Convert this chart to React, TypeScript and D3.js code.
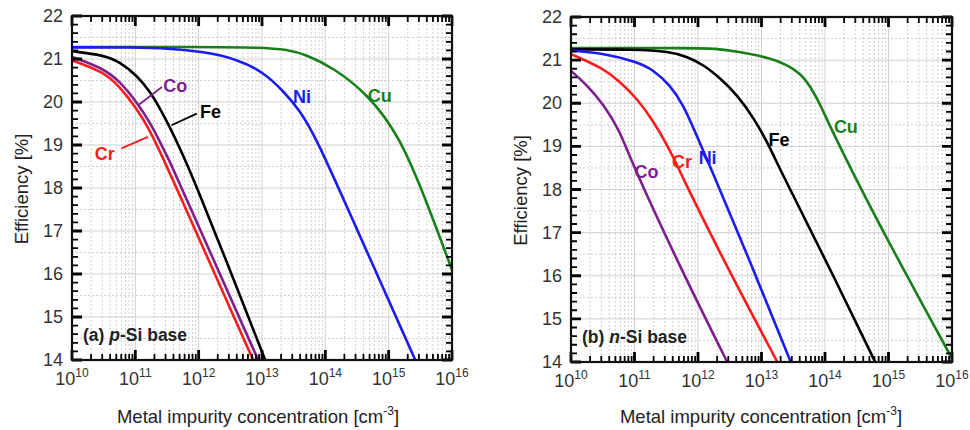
import React from 'react'
import * as d3 from 'd3'

// log10 of metal impurity concentration [cm-3] and efficiency [%]
// (a) p-Si base
const pCuX = [10, 12, 13.0, 13.4, 13.7, 14.12, 14.66, 15.18, 15.62, 16]
const pCuY = [21.28, 21.28, 21.27, 21.22, 21.1, 20.8, 20.2, 19.2, 17.6, 16.1]
const pNiX = [10, 11, 11.5, 12.08, 12.6, 13.02, 13.34, 13.6, 13.86, 14.39, 15.42]
const pNiY = [21.27, 21.27, 21.25, 21.17, 21.0, 20.7, 20.25, 19.8, 19.15, 17.4, 14]
const pFeX = [10, 10.5, 10.76, 11.02, 11.23, 11.39, 11.55, 11.71, 11.84, 11.95, 12.44, 13.05]
const pFeY = [21.18, 21.09, 20.93, 20.62, 20.25, 19.85, 19.4, 18.9, 18.47, 18.09, 16.3, 14]
const pCoX = [10, 10.5, 10.76, 11.02, 11.23, 11.39, 11.55, 11.7, 12.94]
const pCoY = [21.05, 20.78, 20.47, 20.0, 19.53, 19.07, 18.6, 18.1, 14]
const pCrX = [10, 10.5, 10.76, 11.02, 11.23, 11.39, 11.56, 12.86]
const pCrY = [20.97, 20.7, 20.35, 19.85, 19.34, 18.84, 18.3, 14]

// (b) n-Si base
const nCuX = [10, 12, 12.25, 12.62, 13.14, 13.4, 13.61, 13.77, 13.93, 14.09, 14.76, 16]
const nCuY = [21.28, 21.28, 21.27, 21.2, 21.05, 20.89, 20.7, 20.39, 19.96, 19.42, 17.43, 14.08]
const nFeX = [10, 11, 11.56, 11.83, 12.09, 12.35, 12.62, 12.88, 13.09, 13.25, 13.4, 14.1, 14.79]
const nFeY = [21.25, 21.25, 21.2, 21.08, 20.89, 20.58, 20.19, 19.65, 19.1, 18.6, 18.15, 16.1, 14]
const nNiX = [10, 10.51, 11.04, 11.3, 11.56, 11.77, 11.95, 12.15, 12.83, 13.46]
const nNiY = [21.22, 21.16, 20.96, 20.77, 20.42, 19.96, 19.35, 18.68, 16.3, 14]
const nCrX = [10, 10.51, 10.77, 11.04, 11.3, 11.51, 11.67, 11.8, 12.46, 13.25]
const nCrY = [21.14, 20.81, 20.5, 20.11, 19.58, 19.04, 18.57, 18.15, 16.19, 14]
const nCoX = [10, 10.24, 10.51, 10.77, 10.94, 11.72, 12.46]
const nCoY = [20.75, 20.44, 19.98, 19.36, 18.68, 16.19, 14]

const decades = [10, 11, 12, 13, 14, 15, 16]
const yTicks = [14, 15, 16, 17, 18, 19, 20, 21, 22]

const colors: Record<string, string> = {
  Cu: '#1a7f1a', Ni: '#1c1cf0', Fe: '#000000', Co: '#7d1f8e', Cr: '#f81e1e',
}

type Series = { name: string; xs: number[]; ys: number[] }
type Label = { name: string; x: number; y: number; lead?: [number, number, number, number] }

const pSeries: Series[] = [
  { name: 'Cu', xs: pCuX, ys: pCuY },
  { name: 'Ni', xs: pNiX, ys: pNiY },
  { name: 'Fe', xs: pFeX, ys: pFeY },
  { name: 'Co', xs: pCoX, ys: pCoY },
  { name: 'Cr', xs: pCrX, ys: pCrY },
]
const nSeries: Series[] = [
  { name: 'Cu', xs: nCuX, ys: nCuY },
  { name: 'Fe', xs: nFeX, ys: nFeY },
  { name: 'Ni', xs: nNiX, ys: nNiY },
  { name: 'Cr', xs: nCrX, ys: nCrY },
  { name: 'Co', xs: nCoX, ys: nCoY },
]

// label positions in data coordinates (log10 x, efficiency y)
const pLabels: Label[] = [
  { name: 'Co', x: 11.44, y: 20.23, lead: [11.04, 19.92, 11.42, 20.35] },
  { name: 'Fe', x: 12.02, y: 19.62, lead: [11.57, 19.46, 11.97, 19.73] },
  { name: 'Cr', x: 10.36, y: 18.64, lead: [10.78, 18.92, 11.2, 19.19] },
  { name: 'Ni', x: 13.49, y: 19.97 },
  { name: 'Cu', x: 14.67, y: 19.99 },
]
const nLabels: Label[] = [
  { name: 'Co', x: 11.0, y: 18.26 },
  { name: 'Cr', x: 11.59, y: 18.5 },
  { name: 'Ni', x: 12.01, y: 18.6 },
  { name: 'Fe', x: 13.11, y: 19.0 },
  { name: 'Cu', x: 14.14, y: 19.31 },
]

const font = 'Arial, "Liberation Sans", sans-serif'

const Panel = (props: {
  x0: number; x1: number; y0: number; y1: number
  series: Series[]; labels: Label[]; tag: string; base: string; titleX: number; yTitleX: number
}) => {
  const { x0, x1, y0, y1, series, labels, tag, base, titleX, yTitleX } = props
  const xScale = d3.scaleLog().domain([1e10, 1e16]).range([x0, x1])
  const yScale = d3.scaleLinear().domain([14, 22]).range([y1, y0])
  const lx = (e: number) => xScale(Math.pow(10, e))

  const minorX: number[] = []
  decades.slice(0, -1).forEach(d => { for (let k = 2; k <= 9; k++) minorX.push(k * Math.pow(10, d)) })
  const minorY = d3.range(14, 22.001, 0.2).filter(v => Math.abs(v - Math.round(v)) > 0.01)
  const gridY = d3.range(14.5, 22, 1)

  const lineGen = d3.line<[number, number]>()
    .x(d => lx(d[0])).y(d => yScale(d[1])).curve(d3.curveBasis)

  // tick marks as path strings (inward, all four sides)
  const minorTicks = minorX.map(v => {
    const x = xScale(v).toFixed(2)
    return `M${x},${y1}V${y1 - 6}M${x},${y0}V${y0 + 6}`
  }).join('') + minorY.map(v => {
    const y = yScale(v).toFixed(2)
    return `M${x0},${y}H${x0 + 6}M${x1},${y}H${x1 - 6}`
  }).join('')
  const majorTicks = decades.map(d => {
    const x = lx(d).toFixed(2)
    return `M${x},${y1}V${y1 - 10}M${x},${y0}V${y0 + 10}`
  }).join('') + yTicks.map(v => {
    const y = yScale(v).toFixed(2)
    return `M${x0},${y}H${x0 + 10}M${x1},${y}H${x1 - 10}`
  }).join('')

  return (
    <g fontFamily={font}>
      {/* grid */}
      {minorX.map((v, i) => (
        <line key={'gx' + i} x1={xScale(v)} x2={xScale(v)} y1={y0} y2={y1} stroke='#c4c4c4' strokeWidth={0.8} strokeDasharray='2,2' />
      ))}
      {gridY.map((v, i) => (
        <line key={'gy' + i} x1={x0} x2={x1} y1={yScale(v)} y2={yScale(v)} stroke='#c4c4c4' strokeWidth={0.8} strokeDasharray='2,2' />
      ))}
      {decades.map(d => (
        <line key={'GX' + d} x1={lx(d)} x2={lx(d)} y1={y0} y2={y1} stroke='#d0d0d0' strokeWidth={1} />
      ))}
      {yTicks.map(v => (
        <line key={'GY' + v} x1={x0} x2={x1} y1={yScale(v)} y2={yScale(v)} stroke='#d0d0d0' strokeWidth={1} />
      ))}

      {/* curves */}
      <defs>
        <clipPath id={'clip' + tag}>
          <rect x={x0} y={y0} width={x1 - x0} height={y1 - y0} />
        </clipPath>
      </defs>
      <g clipPath={`url(#clip${tag})`}>
        {series.map(s => (
          <path key={s.name} d={lineGen(s.xs.map((x, i) => [x, s.ys[i]] as [number, number])) || ''}
            fill='none' stroke={colors[s.name]} strokeWidth={2.6} />
        ))}
      </g>

      <path d={minorTicks} fill='none' stroke='#000' strokeWidth={1.8} />
      <path d={majorTicks} fill='none' stroke='#000' strokeWidth={2.8} />
      <rect x={x0} y={y0} width={x1 - x0} height={y1 - y0} fill='none' stroke='#111' strokeWidth={2.2} />

      {/* tick labels */}
      {yTicks.map(v => (
        <text key={'ly' + v} x={x0 - 9} y={yScale(v) + 6} textAnchor='end' fontSize={18} fill='#333'>{v}</text>
      ))}
      {decades.map(d => (
        <text key={'lx' + d} x={lx(d)} y={y1 + 25} textAnchor='middle' fontSize={18} fill='#333'>
          10<tspan fontSize={12} dy={-8}>{d}</tspan>
        </text>
      ))}

      {/* series labels */}
      {labels.map(l => (
        <g key={'sl' + l.name}>
          {l.lead && (
            <line x1={lx(l.lead[0])} y1={yScale(l.lead[1])} x2={lx(l.lead[2])} y2={yScale(l.lead[3])}
              stroke={colors[l.name]} strokeWidth={1.8} />
          )}
          <text x={lx(l.x)} y={yScale(l.y)} fontSize={18} fontWeight='bold' fill={colors[l.name]}>{l.name}</text>
        </g>
      ))}

      <text x={x0 + 11} y={y1 - 19} fontSize={17.5} fontWeight='bold' fill='#222'>
        ({tag}) <tspan fontStyle='italic'>{base}</tspan>-Si base
      </text>

      {/* axis titles */}
      <text x={titleX} y={423} textAnchor='middle' fontSize={18.5} fill='#222'>
        Metal impurity concentration [cm<tspan fontSize={12} dy={-8}>-3</tspan><tspan dy={8}>]</tspan>
      </text>
      <text transform={`translate(${yTitleX},${(y0 + y1) / 2 + 1}) rotate(-90)`} textAnchor='middle' fontSize={18.5} fill='#222'>
        Efficiency [%]
      </text>
    </g>
  )
}

export default function App() {
  return (
    <svg width={970} height={430} style={{ position: 'absolute', left: 0, top: 0, background: '#fff' }}>
      <rect width={970} height={430} fill='#fff' />
      <Panel x0={72} x1={452} y0={16} y1={360} series={pSeries} labels={pLabels} tag='a' base='p' titleX={258} yTitleX={28} />
      <Panel x0={571} x1={952} y0={17} y1={362} series={nSeries} labels={nLabels} tag='b' base='n' titleX={761} yTitleX={527} />
    </svg>
  )
}
